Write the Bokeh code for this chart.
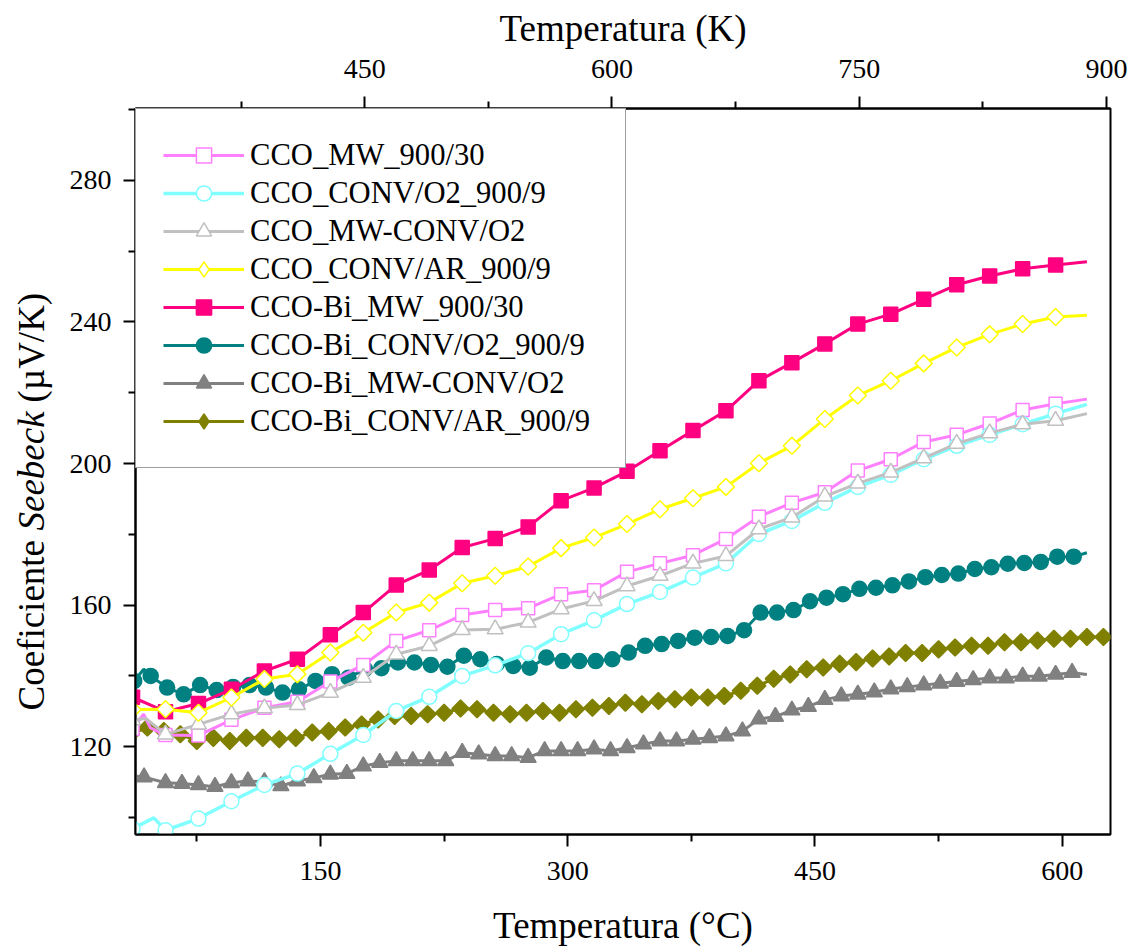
import math
from bokeh.plotting import figure
from bokeh.layouts import row
from bokeh.models import (Range1d, LinearAxis, FixedTicker, Legend, LegendItem, Label,
                          CDSView, IndexFilter, ColumnDataSource)
from bokeh.embed import file_html
from bokeh.resources import INLINE

# ---------------- data (temperature in °C, Seebeck coefficient in µV/K) ----------------
A_T = [36, 42.7, 46.9, 56, 76, 96, 116, 136, 156, 176, 196, 216, 236, 256, 276, 296, 316, 336,
       356, 376, 396, 416, 436, 456, 476, 496, 516, 536, 556, 576, 596, 615]
A_S = [125.0, 129.2, 125.3, 123.3, 123.2, 127.6, 131.0, 132.7, 138.4, 143.1, 149.9, 152.9, 157.2,
       158.6, 159.1, 163.1, 164.2, 169.4, 171.8, 174.1, 178.7, 185.0, 188.9, 191.9, 198.0, 201.2,
       206.1, 208.1, 211.3, 215.1, 216.9, 218.2]

B_T = [36, 48.9, 56, 76, 96, 116, 136, 156, 176, 196, 216, 236, 256, 276, 296, 316, 336, 356,
       376, 396, 416, 436, 456, 476, 496, 516, 536, 556, 576, 596, 615]
B_S = [96.8, 99.9, 96.4, 99.7, 104.6, 109.2, 112.4, 118.0, 123.3, 130.1, 134.1, 140.0, 143.0,
       146.4, 151.8, 155.7, 160.3, 163.7, 167.8, 171.8, 180.1, 183.8, 188.9, 193.4, 196.8, 201.2,
       205.0, 208.1, 211.1, 214.1, 216.7]

C_T = [36, 44, 56, 76, 96, 116, 136, 156, 176, 196, 216, 236, 256, 276, 296, 316, 336, 356,
       376, 396, 416, 436, 456, 476, 496, 516, 536, 556, 576, 596, 615]
C_S = [127.5, 128.0, 123.5, 126.3, 129.2, 130.9, 131.8, 135.3, 139.5, 146.1, 148.5, 153.0, 153.2,
       155.1, 158.9, 161.2, 165.4, 168.3, 171.8, 173.9, 181.5, 184.8, 190.7, 194.4, 197.5, 201.5,
       205.6, 208.6, 211.1, 212.1, 214.1]

D_T = [36, 56, 76, 96, 116, 136, 156, 176, 196, 216, 236, 256, 276, 296, 316, 336, 356, 376,
       396, 416, 436, 456, 476, 496, 516, 536, 556, 576, 596, 615]
D_S = [130.5, 130.6, 129.6, 133.9, 139.1, 140.5, 146.6, 152.2, 157.9, 160.7, 166.2, 168.3, 170.9,
       176.1, 179.1, 182.9, 187.1, 190.2, 193.4, 200.1, 205.0, 212.6, 219.2, 223.4, 228.3, 232.8,
       236.5, 239.4, 241.4, 241.9]

E_T = [36, 56, 76, 96, 116, 136, 156, 176, 196, 216, 236, 256, 276, 296, 316, 336, 356, 376,
       396, 416, 436, 456, 476, 496, 516, 536, 556, 576, 596, 615]
E_S = [134.0, 129.9, 132.2, 136.2, 141.4, 144.7, 151.6, 157.9, 165.7, 169.9, 176.3, 178.8, 182.1,
       189.5, 193.1, 197.8, 203.6, 209.3, 214.9, 223.4, 228.5, 233.8, 239.4, 242.2, 246.4, 250.5,
       253.0, 255.0, 256.1, 257.0]

F_T = [37, 42.8, 47, 57, 67, 77, 87, 97, 107, 117, 127, 137, 147, 157, 167, 177, 187, 197, 207,
       217, 227, 237, 247, 257, 267, 277, 287, 297, 307, 317, 327, 337, 347, 357, 367, 377, 387,
       397, 407, 417, 427, 437, 447, 457, 467, 477, 487, 497, 507, 517, 527, 537, 547, 557, 567,
       577, 587, 597, 607, 615]
F_S = [138.6, 141.9, 140.0, 136.7, 134.8, 137.4, 136.0, 136.9, 137.4, 136.7, 135.3, 136.2, 138.6,
       140.5, 139.5, 141.9, 142.2, 143.8, 143.8, 143.1, 142.6, 145.7, 144.7, 143.4, 142.8, 142.3,
       145.2, 144.2, 144.2, 144.2, 144.7, 146.6, 148.5, 149.0, 149.9, 150.8, 151.0, 151.3, 152.9,
       157.9, 157.9, 158.6, 161.1, 162.1, 163.1, 164.6, 164.9, 165.6, 166.7, 167.9, 168.5, 168.9,
       170.2, 170.7, 171.7, 171.9, 172.2, 173.7, 173.7, 174.8]

G_T = [37.8, 43, 56, 66, 76, 86, 96, 106, 116, 126, 136, 146, 156, 166, 176, 186, 196, 206, 216,
       226, 236, 246, 256, 266, 276, 286, 296, 306, 316, 326, 336, 346, 356, 366, 376, 386, 396,
       406, 416, 426, 436, 446, 456, 466, 476, 486, 496, 506, 516, 526, 536, 546, 556, 566, 576,
       586, 596, 606, 615]
G_S = [111.7, 111.4, 109.8, 109.6, 109.2, 108.7, 109.8, 110.3, 110.1, 108.9, 110.3, 111.2, 112.2,
       112.4, 114.5, 115.5, 116.0, 116.0, 116.0, 116.0, 118.3, 117.9, 117.4, 117.4, 116.9, 118.8,
       118.8, 118.8, 119.3, 118.8, 119.7, 120.7, 121.6, 121.6, 122.1, 122.5, 123.0, 124.4, 127.8,
       128.5, 130.3, 131.3, 133.3, 134.3, 134.8, 135.4, 136.3, 136.9, 137.4, 137.9, 138.4, 138.9,
       139.4, 139.4, 139.9, 139.9, 140.4, 140.9, 140.4]

H_T = [35, 45, 55, 65, 75, 85, 95, 105, 115, 125, 135, 145, 155, 165, 175, 185, 195, 205, 215,
       225, 235, 245, 255, 265, 275, 285, 295, 305, 315, 325, 335, 345, 355, 365, 375, 385, 395,
       405, 415, 425, 435, 445, 455, 465, 475, 485, 495, 505, 515, 525, 535, 545, 555, 565, 575,
       585, 595, 605, 615, 625]
H_S = [123.6, 125.4, 124.4, 123.5, 121.6, 122.5, 121.6, 122.5, 122.5, 122.1, 122.5, 124.0, 124.4,
       125.4, 126.3, 127.7, 128.7, 128.7, 129.2, 129.6, 130.8, 130.6, 129.6, 129.2, 129.6, 130.1,
       129.6, 130.6, 131.0, 131.5, 132.4, 132.0, 132.9, 133.4, 133.9, 133.9, 134.3, 135.8, 137.2,
       139.2, 140.4, 141.9, 142.4, 143.4, 143.9, 144.9, 145.5, 146.5, 146.5, 147.5, 148.0, 148.5,
       148.5, 149.5, 149.5, 150.0, 150.5, 150.5, 151.0, 151.0]

LABELS = ["CCO_MW_900/30", "CCO_CONV/O2_900/9", "CCO_MW-CONV/O2", "CCO_CONV/AR_900/9",
          "CCO-Bi_MW_900/30", "CCO-Bi_CONV/O2_900/9", "CCO-Bi_MW-CONV/O2", "CCO-Bi_CONV/AR_900/9"]

X_TICKS = [150, 300, 450, 600]
X_MINOR = [75, 225, 375, 525]
K_TICKS = [450, 600, 750, 900]
K_MINOR = [375, 525, 675, 825]
Y_TICKS = [120, 160, 200, 240, 280]
Y_MINOR = [100, 140, 180, 220, 260, 300]

X_TITLE = "Temperatura (°C)"
K_TITLE = "Temperatura (K)"
Y_TITLE_PARTS = ["Coeficiente", "Seebeck", "(µV/K)"]

T_MIN, T_MAX = 37.8, 629.3
S_MIN, S_MAX = 95.2, 300.3
KELVIN = 273.15

FONT = "Liberation Serif"
CANVAS_H = 948
TITLE_W = 60

# ---------------- y-title strip (mixed upright / italic text) ----------------
yt = figure(width=TITLE_W, height=CANVAS_H, min_border=0, x_range=Range1d(0, TITLE_W),
            y_range=Range1d(0, 1), x_axis_location=None, y_axis_location=None,
            output_backend="svg", toolbar_location=None)
yt.xgrid.visible = False
yt.ygrid.visible = False
yt.outline_line_color = None
yt.background_fill_color = "white"
yt.border_fill_color = "white"
for txt, ypos, style in zip(Y_TITLE_PARTS, [710, 530, 402], ["normal", "italic", "normal"]):
    yt.add_layout(Label(x=31, y=ypos, x_units="canvas", y_units="canvas", text=txt,
                        angle=math.pi / 2, text_align="left", text_baseline="alphabetic",
                        text_font=FONT, text_font_size="37px", text_font_style=style,
                        text_color="black"))

# ---------------- main figure ----------------
p = figure(frame_width=975, frame_height=726,
           min_border_left=135 - TITLE_W, min_border_right=22, min_border_top=108,
           min_border_bottom=114,
           x_range=Range1d(T_MIN, T_MAX), y_range=Range1d(S_MIN, S_MAX),
           output_backend="svg", toolbar_location=None)
p.extra_x_ranges = {"K": Range1d(T_MIN + KELVIN, T_MAX + KELVIN)}
p.xgrid.visible = False
p.ygrid.visible = False
p.outline_line_color = "black"
p.outline_line_width = 2
p.background_fill_color = "white"
p.border_fill_color = "white"


def style_axis(ax, ticks, minor, standoff):
    ax.ticker = FixedTicker(ticks=ticks, minor_ticks=minor)
    ax.axis_line_width = 2
    ax.axis_line_color = "black"
    ax.major_tick_line_width = 2
    ax.minor_tick_line_width = 2
    ax.major_tick_line_color = "black"
    ax.minor_tick_line_color = "black"
    ax.major_tick_out = 12
    ax.major_tick_in = 0
    ax.minor_tick_out = 7
    ax.minor_tick_in = 0
    ax.major_label_standoff = standoff
    ax.major_label_text_font = FONT
    ax.major_label_text_font_size = "28px"
    ax.major_label_text_color = "black"
    ax.axis_label_text_font = FONT
    ax.axis_label_text_font_size = "37px"
    ax.axis_label_text_font_style = "normal"
    ax.axis_label_text_color = "black"


xa = p.xaxis[0]
style_axis(xa, X_TICKS, X_MINOR, 15)
xa.axis_label = X_TITLE
xa.axis_label_standoff = 22

style_axis(p.yaxis[0], Y_TICKS, Y_MINOR, 12)

top = LinearAxis(x_range_name="K")
style_axis(top, K_TICKS, K_MINOR, 19)
top.axis_label = K_TITLE
top.axis_label_standoff = 8
p.add_layout(top, "above")

# ---------------- series ----------------
series = {
    # key: (T, S, color, marker, size, filled, angle, line width, marker indices, legend marker)
    "A": (A_T, A_S, "#FF80FF", "square", 13, False, 0, 3, [0] + list(range(3, 31)), "square"),
    "B": (B_T, B_S, "#80FFFF", "circle", 15, False, 0, 3.5, [0] + list(range(2, 30)), "circle"),
    "C": (C_T, C_S, "#C0C0C0", "triangle", 16, False, 0, 3, [0] + list(range(2, 30)), "triangle"),
    "D": (D_T, D_S, "#FFFF00", "square", 12, False, math.pi / 4, 3, list(range(0, 29)), "diamond"),
    "E": (E_T, E_S, "#FF0080", "square", 14, True, 0, 3, list(range(0, 29)), "square"),
    "F": (F_T, F_S, "#008080", "circle", 15, True, 0, 3, [0] + list(range(2, 59)), "circle"),
    "G": (G_T, G_S, "#808080", "triangle", 16, True, 0, 3, list(range(1, 58)), "triangle"),
    "H": (H_T, H_S, "#808000", "square", 12, True, math.pi / 4, 3, list(range(0, 60)), "diamond"),
}

draw_order = ["F", "G", "H", "E", "A", "B", "C", "D"]
renderers = {}
for key in draw_order:
    T, S, color, marker, size, filled, ang, lw, idx, lmarker = series[key]
    fill = color if filled else "white"
    lr = p.line(T, S, line_color=color, line_width=lw)
    src = ColumnDataSource(dict(x=[T[i] for i in idx], y=[S[i] for i in idx]))
    swatch = None
    if lmarker != marker:
        # legend swatch (diamond shape): one point, drawn underneath the rotated-square marker
        swatch = p.scatter("x", "y", source=src, marker=lmarker, size=size * 0.9,
                           fill_color=fill, line_color=color, line_width=1.5,
                           view=CDSView(filter=IndexFilter(indices=[0])))
    sr = p.scatter("x", "y", source=src, marker=marker, size=size, angle=ang, fill_color=fill,
                   line_color=color, line_width=1.5)
    renderers[key] = [lr, swatch if swatch is not None else sr]

items = [LegendItem(label=lab, renderers=renderers[k])
         for lab, k in zip(LABELS, ["A", "B", "C", "D", "E", "F", "G", "H"])]
legend = Legend(items=items, location="top_left", margin=0, padding=27, spacing=0,
                glyph_width=81, glyph_height=38, label_standoff=6, label_width=348,
                label_height=20, label_text_font=FONT, label_text_font_size="30.6px",
                label_text_color="black", border_line_color="#404040", border_line_width=1.5,
                background_fill_color="white", background_fill_alpha=1.0)
p.add_layout(legend)

layout = row(yt, p)
open("out.html", "w").write(file_html(layout, INLINE))
